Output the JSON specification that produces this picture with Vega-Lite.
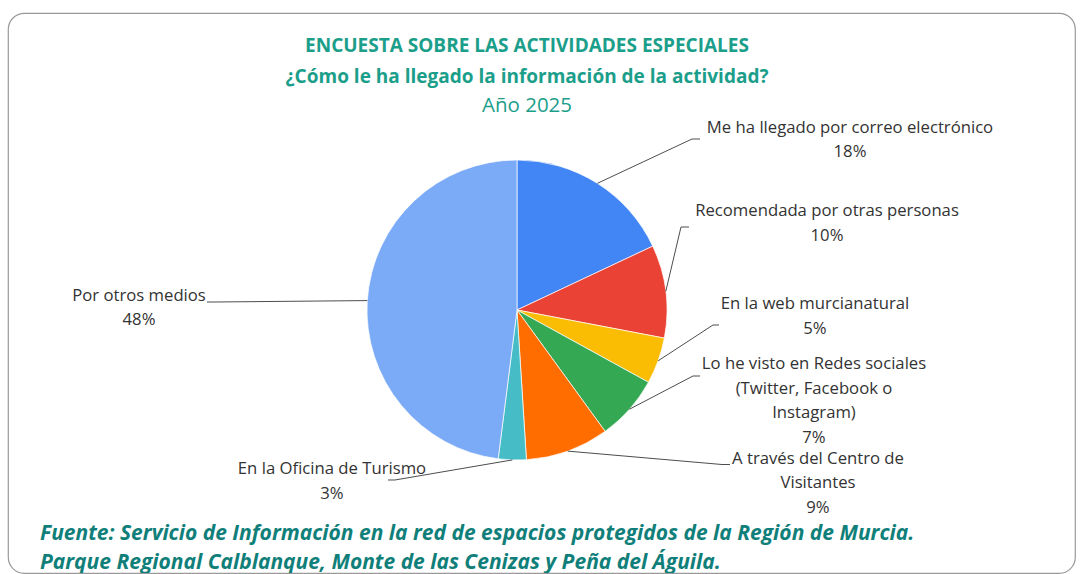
{
  "$schema": "https://vega.github.io/schema/vega-lite/v6.json",
  "width": 1080,
  "height": 574,
  "autosize": {"type": "fit", "contains": "padding"},
  "padding": {"left": 8, "top": 13, "right": 5, "bottom": 1},
  "background": "white",
  "view": {"stroke": "#9a9a9a", "strokeWidth": 1.2, "cornerRadius": 16},
  "config": {"font": "Open Sans"},
  "layer": [
    {
      "data": {
        "values": [
          {"cat": "Me ha llegado por correo electrónico", "label": "Me ha llegado por correo electrónico", "value": 18, "idx": 1, "tx": 2.22, "ty": 1.2667, "ex": 1.1667, "ey": 1.14, "hx": 1.22},
          {"cat": "Recomendada por otras personas", "label": "Recomendada por otras personas", "value": 10, "idx": 2, "tx": 2.0667, "ty": 0.7133, "ex": 1.0933, "ey": 0.5533, "hx": 1.1467},
          {"cat": "En la web murcianatural", "label": "En la web murcianatural", "value": 5, "idx": 3, "tx": 1.9867, "ty": 0.0933, "ex": 1.3067, "ey": -0.1, "hx": 1.3467},
          {"cat": "Lo he visto en Redes sociales (Twitter, Facebook o Instagram)", "label": "Lo he visto en Redes sociales\n(Twitter, Facebook o\nInstagram)", "value": 7, "idx": 4, "tx": 1.98, "ty": -0.3067, "ex": 1.1733, "ey": -0.44, "hx": 1.22},
          {"cat": "A través del Centro de Visitantes", "label": "A través del Centro de\nVisitantes", "value": 9, "idx": 5, "tx": 2.0067, "ty": -0.9367, "ex": 1.3667, "ey": -1.03, "hx": 1.42},
          {"cat": "En la Oficina de Turismo", "label": "En la Oficina de Turismo", "value": 3, "idx": 6, "tx": -1.2333, "ty": -1.0067, "ex": -0.8133, "ey": -1.1333, "hx": -0.86},
          {"cat": "Por otros medios", "label": "Por otros medios", "value": 48, "idx": 7, "tx": -2.52, "ty": 0.1467, "ex": -2.0133, "ey": 0.0533, "hx": -2.0667}
        ]
      },
      "transform": [
        {"window": [{"op": "sum", "field": "value", "as": "cum"}], "sort": [{"field": "idx", "order": "ascending"}], "frame": [null, 0]},
        {"joinaggregate": [{"op": "sum", "field": "value", "as": "total"}]},
        {"calculate": "(datum.cum - datum.value / 2) / datum.total * 2 * PI", "as": "mid"},
        {"calculate": "sin(datum.mid)", "as": "sx"},
        {"calculate": "cos(datum.mid)", "as": "sy"},
        {"calculate": "datum.label + '\\n' + datum.value + '%'", "as": "txt"}
      ],
      "layer": [
        {
          "mark": {"type": "arc", "outerRadius": 150, "stroke": "white", "strokeWidth": 0.7},
          "encoding": {
            "theta": {"field": "value", "type": "quantitative", "stack": true},
            "order": {"field": "idx", "type": "quantitative"},
            "color": {
              "field": "cat",
              "type": "nominal",
              "legend": null,
              "scale": {
                "domain": ["Me ha llegado por correo electrónico", "Recomendada por otras personas", "En la web murcianatural", "Lo he visto en Redes sociales (Twitter, Facebook o Instagram)", "A través del Centro de Visitantes", "En la Oficina de Turismo", "Por otros medios"],
                "range": ["#4285F4", "#EA4335", "#FBBC04", "#34A853", "#FF6D01", "#46BDC6", "#7BAAF7"]
              }
            },
            "x": {"datum": 0, "type": "quantitative", "scale": {"domain": [-3.3933, 3.72], "nice": false, "zero": false}, "axis": null},
            "y": {"datum": 0, "type": "quantitative", "scale": {"domain": [-1.7533, 1.98], "nice": false, "zero": false}, "axis": null}
          }
        },
        {
          "mark": {"type": "rule", "color": "#4d4d4d", "strokeWidth": 1},
          "encoding": {
            "x": {"field": "sx", "type": "quantitative", "scale": {"domain": [-3.3933, 3.72], "nice": false, "zero": false}, "axis": null},
            "y": {"field": "sy", "type": "quantitative", "scale": {"domain": [-1.7533, 1.98], "nice": false, "zero": false}, "axis": null},
            "x2": {"field": "ex"},
            "y2": {"field": "ey"}
          }
        },
        {
          "mark": {"type": "rule", "color": "#4d4d4d", "strokeWidth": 1},
          "encoding": {
            "x": {"field": "ex", "type": "quantitative", "scale": {"domain": [-3.3933, 3.72], "nice": false, "zero": false}, "axis": null},
            "y": {"field": "ey", "type": "quantitative", "scale": {"domain": [-1.7533, 1.98], "nice": false, "zero": false}, "axis": null},
            "x2": {"field": "hx"},
            "y2": {"field": "ey"}
          }
        },
        {
          "mark": {"type": "text", "align": "center", "baseline": "top", "lineBreak": "\n", "lineHeight": 24.5, "fontSize": 16.7, "color": "#333333"},
          "encoding": {
            "x": {"field": "tx", "type": "quantitative", "scale": {"domain": [-3.3933, 3.72], "nice": false, "zero": false}, "axis": null},
            "y": {"field": "ty", "type": "quantitative", "scale": {"domain": [-1.7533, 1.98], "nice": false, "zero": false}, "axis": null},
            "text": {"field": "txt", "type": "nominal"}
          }
        }
      ]
    },
    {
      "data": {"values": [{"t": "ENCUESTA SOBRE LAS ACTIVIDADES ESPECIALES", "p": 1.76}, {"t": "¿Cómo le ha llegado la información de la actividad?", "p": 1.5533}]},
      "mark": {"type": "text", "align": "center", "baseline": "middle", "fontSize": 19, "fontWeight": "bold", "color": "#1B9E8A"},
      "encoding": {
        "x": {"datum": 0.0667, "type": "quantitative", "scale": {"domain": [-3.3933, 3.72], "nice": false, "zero": false}, "axis": null},
        "y": {"field": "p", "type": "quantitative", "scale": {"domain": [-1.7533, 1.98], "nice": false, "zero": false}, "axis": null},
        "text": {"field": "t", "type": "nominal"}
      }
    },
    {
      "data": {"values": [{"t": "Año 2025", "p": 1.36}]},
      "mark": {"type": "text", "align": "center", "baseline": "middle", "fontSize": 20.5, "color": "#1B9E8A"},
      "encoding": {
        "x": {"datum": 0.0667, "type": "quantitative", "scale": {"domain": [-3.3933, 3.72], "nice": false, "zero": false}, "axis": null},
        "y": {"field": "p", "type": "quantitative", "scale": {"domain": [-1.7533, 1.98], "nice": false, "zero": false}, "axis": null},
        "text": {"field": "t", "type": "nominal"}
      }
    },
    {
      "data": {"values": [{"t": "Fuente: Servicio de Información en la red de espacios protegidos de la Región de Murcia.", "p": -1.4933}, {"t": "Parque Regional Calblanque, Monte de las Cenizas y Peña del Águila.", "p": -1.6867}]},
      "mark": {"type": "text", "align": "left", "baseline": "middle", "fontSize": 21, "fontWeight": "bold", "fontStyle": "italic", "color": "#107F7A", "clip": true},
      "encoding": {
        "x": {"datum": -3.18, "type": "quantitative", "scale": {"domain": [-3.3933, 3.72], "nice": false, "zero": false}, "axis": null},
        "y": {"field": "p", "type": "quantitative", "scale": {"domain": [-1.7533, 1.98], "nice": false, "zero": false}, "axis": null},
        "text": {"field": "t", "type": "nominal"}
      }
    }
  ]
}
